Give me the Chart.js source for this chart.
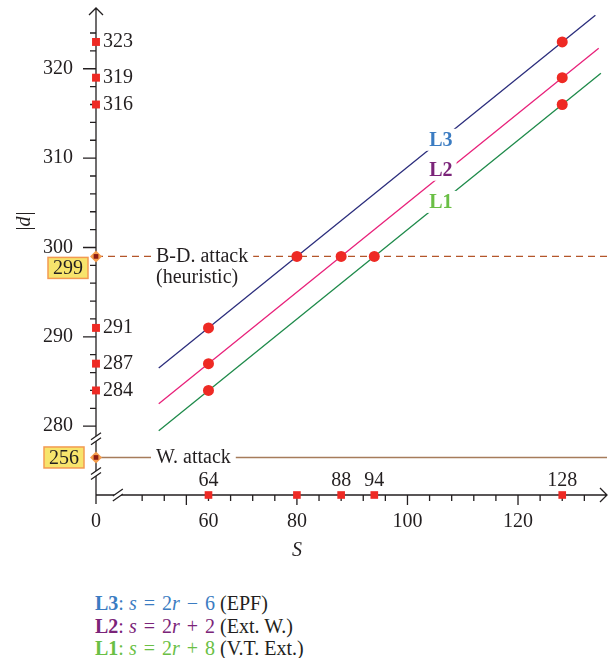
<!DOCTYPE html>
<html>
<head>
<meta charset="utf-8">
<script src="https://cdn.jsdelivr.net/npm/chart.js@4.4.0/dist/chart.umd.min.js"></script>
<style>
  html, body { margin: 0; padding: 0; background: #fff; }
  #wrap { position: relative; width: 615px; height: 560px; }
  .legend {
    position: absolute; left: 95px; top: 592px;
    font-family: "Liberation Serif", serif; font-size: 20px; line-height: 22.5px; color: #231f20;
  }
  .legend b { font-weight: bold; }
  .legend .eq { word-spacing: 2px; }
  .l3 { color: #3b7cc2; }
  .l2 { color: #7b2479; }
  .l1 { color: #6abf45; }
</style>
</head>
<body>
<div id="wrap"><canvas id="chart" width="615" height="560"></canvas></div>
<div class="legend">
  <div><span class="l3"><b>L3</b>: <span class="eq"><i>s</i> = 2<i>r</i> − 6</span></span> (EPF)</div>
  <div><span class="l2"><b>L2</b>: <span class="eq"><i>s</i> = 2<i>r</i> + 2</span></span> (Ext. W.)</div>
  <div><span class="l1"><b>L1</b>: <span class="eq"><i>s</i> = 2<i>r</i> + 8</span></span> (V.T. Ext.)</div>
</div>
<script>
// axis extents (left end of S axis stands for 0, bottom of |d| axis is below the break)
const xMin = 43.65, xMax = 136.1;
const yMin = 272.3, yMax = 326.8;

// the three lines, end points
const lineNames = ['L3', 'L2', 'L1'];
const l3S = [55, 134],   l3D = [286.5, 326];
const l2S = [55, 134.6], l2D = [282.5, 322.3];
const l1S = [55, 135],   l1D = [279.5, 319.5];

// red dots on the lines
const hitS = [64, 80, 128, 64, 88, 128, 64, 94, 128];
const hitD = [291, 299, 323, 287, 299, 319, 284, 299, 316];

// red squares on the axes
const dMarks = [323, 319, 316, 291, 287, 284];
const sMarks = [64, 80, 88, 94, 128];
const sMarkLabels = ['64', '', '88', '94', '128'];

// attack levels
const attackD = [299, 256];
const attackNames = [['B-D. attack', '(heuristic)'], ['W. attack']];

// tick labels
const yTickLabels = [280, 290, 300, 310, 320];
const xTickText = { 64: '60', 80: '80', 100: '100', 120: '120' };

// 256 sits inside the break below 280, S = 0 sits at the left end
const yBreakAt = 276.5;
const dPos = v => (v < 270 ? yBreakAt : v);
const sPos = v => (v < 40 ? xMin : v);
const yBreaks = [278.6, 274.7];
const xBreak = 47.6;

const ink = '#231f20';
const red = '#ee2a24';
const lineColors = ['#2b2d7c', '#e8217a', '#1e8a4a'];
const labelColors = ['#3b7cc2', '#7b2479', '#6abf45'];
const serif = '"Liberation Serif", "Times New Roman", serif';

const pts = (xs, ys) => xs.map((v, i) => ({ x: sPos(v), y: dPos(ys[i]) }));

const decor = {
    id: 'decor',
    beforeDatasetsDraw(chart) {
        const { ctx, chartArea: a, scales: { x, y } } = chart;
        ctx.save();
        ctx.strokeStyle = ink;
        ctx.lineWidth = 1.3;
        ctx.beginPath();
        ctx.moveTo(a.left, a.bottom + 9); ctx.lineTo(a.left, a.top);
        ctx.moveTo(a.left, a.bottom); ctx.lineTo(a.right, a.bottom);
        // arrows
        ctx.moveTo(a.left - 7, a.top + 7); ctx.lineTo(a.left, a.top); ctx.lineTo(a.left + 7, a.top + 7);
        ctx.moveTo(a.right - 7, a.bottom - 7); ctx.lineTo(a.right, a.bottom); ctx.lineTo(a.right - 7, a.bottom + 7);
        // y ticks
        for (let v = 280; v <= 324; v += 2) {
            const py = y.getPixelForValue(v);
            const len = v % 10 === 0 ? 13 : 6;
            ctx.moveTo(a.left - len, py); ctx.lineTo(a.left, py);
        }
        // x ticks
        for (let v = 52; v <= 132; v += 4) {
            const px = x.getPixelForValue(v);
            const len = v % 20 === 0 ? 10 : 6;
            ctx.moveTo(px, a.bottom); ctx.lineTo(px, a.bottom + len);
        }
        ctx.stroke();

        // axis breaks
        const brk = (cx, cy) => {
            ctx.fillStyle = '#fff';
            ctx.beginPath();
            ctx.moveTo(cx - 5, cy + 1); ctx.lineTo(cx + 5, cy - 6);
            ctx.lineTo(cx + 5, cy - 1); ctx.lineTo(cx - 5, cy + 6);
            ctx.closePath(); ctx.fill();
            ctx.beginPath();
            ctx.moveTo(cx - 5, cy + 1); ctx.lineTo(cx + 5, cy - 6);
            ctx.moveTo(cx - 5, cy + 6); ctx.lineTo(cx + 5, cy - 1);
            ctx.stroke();
        };
        yBreaks.forEach(v => brk(a.left, y.getPixelForValue(v)));
        brk(x.getPixelForValue(xBreak), a.bottom);
        ctx.restore();
    },
    afterDatasetsDraw(chart) {
        const { ctx, chartArea: a, scales: { x, y } } = chart;
        ctx.save();
        ctx.textBaseline = 'middle';
        ctx.font = `20px ${serif}`;
        ctx.fillStyle = ink;

        // labels next to the squares on the |d| axis
        ctx.textAlign = 'left';
        dMarks.forEach(v => ctx.fillText(String(v), a.left + 7, y.getPixelForValue(v)));

        // labels above the squares on the S axis
        ctx.textAlign = 'center';
        sMarks.forEach((v, i) => {
            if (sMarkLabels[i]) ctx.fillText(sMarkLabels[i], x.getPixelForValue(v), a.bottom - 14);
        });

        // attack level annotations
        const textX = a.left + 60;
        attackD.forEach((v, i) => {
            const py = y.getPixelForValue(dPos(v));
            const names = attackNames[i];
            ctx.font = `20px ${serif}`;
            const w = ctx.measureText(names[0]).width;
            ctx.fillStyle = '#fff';
            ctx.fillRect(textX - 5, py - 4, w + 10, 8);
            ctx.fillStyle = ink;
            ctx.textAlign = 'left';
            names.forEach((t, k) => ctx.fillText(t, textX, py + k * 21));

            // yellow value box
            const label = String(v);
            const lw = ctx.measureText(label).width;
            const bw = lw + 10, bh = 21;
            const right = a.left - (i === 0 ? 8 : 12);
            const cy = py + (i === 0 ? 11.5 : 0);
            ctx.fillStyle = '#f7e46c';
            ctx.strokeStyle = '#f39a52';
            ctx.lineWidth = 1.5;
            ctx.fillRect(right - bw, cy - bh / 2, bw, bh);
            ctx.strokeRect(right - bw, cy - bh / 2, bw, bh);
            ctx.fillStyle = ink;
            ctx.textAlign = 'center';
            ctx.fillText(label, right - bw / 2, cy + 1);
        });

        // line names sitting on the lines
        const labelS = 106.05;
        const labelD = [312.05, 308.7, 305.1];
        ctx.font = `bold 20px ${serif}`;
        lineNames.forEach((n, i) => {
            const px = x.getPixelForValue(labelS), py = y.getPixelForValue(labelD[i]);
            const w = ctx.measureText(n).width;
            ctx.fillStyle = '#fff';
            ctx.fillRect(px - w / 2 - 4, py - 11, w + 8, 22);
            ctx.fillStyle = labelColors[i];
            ctx.textAlign = 'center';
            ctx.fillText(n, px, py + 1);
        });

        // axis titles
        ctx.fillStyle = ink;
        ctx.font = `italic 20px ${serif}`;
        ctx.textAlign = 'center';
        ctx.fillText('S', x.getPixelForValue(80), a.bottom + 56);
        ctx.save();
        ctx.translate(25, 221);
        ctx.rotate(-Math.PI / 2);
        ctx.font = `20px ${serif}`;
        const bar = ctx.measureText('|').width;
        ctx.font = `italic 20px ${serif}`;
        const dw = ctx.measureText('d').width;
        const total = bar * 2 + dw + 1;
        ctx.textAlign = 'left';
        ctx.font = `20px ${serif}`;
        ctx.fillText('|', -total / 2, 0);
        ctx.fillText('|', -total / 2 + bar + dw + 1, 0);
        ctx.font = `italic 20px ${serif}`;
        ctx.fillText('d', -total / 2 + bar, 0);
        ctx.restore();
        ctx.restore();
    }
};

// higher order is drawn first, so lines sit under the markers
const lineSets = [[l3S, l3D], [l2S, l2D], [l1S, l1D]].map(([s, d], i) => ({
    label: lineNames[i],
    data: pts(s, d),
    showLine: true,
    borderColor: lineColors[i],
    borderWidth: 1.3,
    pointRadius: 0,
    clip: false,
    order: 5
}));

new Chart(document.getElementById('chart'), {
    type: 'scatter',
    data: {
        datasets: [
            ...lineSets,
            {
                label: attackNames[0][0],
                data: [{ x: xMin, y: dPos(attackD[0]) }, { x: xMax, y: dPos(attackD[0]) }],
                showLine: true, borderColor: '#b4562a', borderWidth: 1.3, borderDash: [7, 5],
                pointRadius: 0, clip: false, order: 6
            },
            {
                label: attackNames[1][0],
                data: [{ x: xMin, y: dPos(attackD[1]) }, { x: xMax, y: dPos(attackD[1]) }],
                showLine: true, borderColor: '#a67c5b', borderWidth: 1.5,
                pointRadius: 0, clip: false, order: 6
            },
            {
                label: 'hits', data: pts(hitS, hitD),
                pointRadius: 5.5, pointBackgroundColor: red, pointBorderWidth: 0, clip: false, order: 2
            },
            {
                label: 'd marks', data: dMarks.map(v => ({ x: sPos(0), y: v })),
                pointStyle: 'rect', pointRadius: 5.6, pointBackgroundColor: red, pointBorderWidth: 0, clip: false, order: 2
            },
            {
                label: 's marks', data: sMarks.map(v => ({ x: v, y: yMin })),
                pointStyle: 'rect', pointRadius: 5.4, pointBackgroundColor: red, pointBorderWidth: 0, clip: false, order: 2
            },
            {
                label: 'attack levels', data: attackD.map(v => ({ x: sPos(0), y: dPos(v) })),
                pointStyle: 'rectRot', pointRadius: 6, pointBackgroundColor: '#f59c4c', pointBorderWidth: 0, clip: false, order: 1
            },
            {
                label: 'attack core', data: attackD.map(v => ({ x: sPos(0), y: dPos(v) })),
                pointStyle: 'rect', pointRadius: 3.3, pointBackgroundColor: '#8c1c13', pointBorderWidth: 0, clip: false, order: 0
            }
        ]
    },
    options: {
        responsive: false,
        animation: false,
        devicePixelRatio: 1,
        layout: { padding: { top: 8, right: 8, left: 0, bottom: 0 } },
        plugins: { legend: { display: false }, tooltip: { enabled: false } },
        scales: {
            x: {
                type: 'linear', min: xMin, max: xMax,
                grid: { display: false, drawTicks: false },
                border: { display: false },
                ticks: {
                    stepSize: 4, autoSkip: false, maxRotation: 0, includeBounds: true, padding: 15,
                    color: ink, font: { family: serif, size: 20 },
                    callback: (v, i) => (i === 0 ? '0' : (xTickText[v] ?? null))
                },
                afterFit: s => { s.height = 65; s.paddingLeft = 0; s.paddingRight = 0; }
            },
            y: {
                type: 'linear', min: yMin, max: yMax,
                grid: { display: false, drawTicks: false },
                border: { display: false },
                ticks: {
                    stepSize: 2, autoSkip: false, includeBounds: false, padding: 23,
                    color: ink, font: { family: serif, size: 20 },
                    callback: v => (yTickLabels.includes(v) ? String(v) : null)
                },
                afterFit: s => { s.width = 96; s.paddingTop = 0; s.paddingBottom = 0; }
            }
        }
    },
    plugins: [decor]
});
</script>
</body>
</html>
